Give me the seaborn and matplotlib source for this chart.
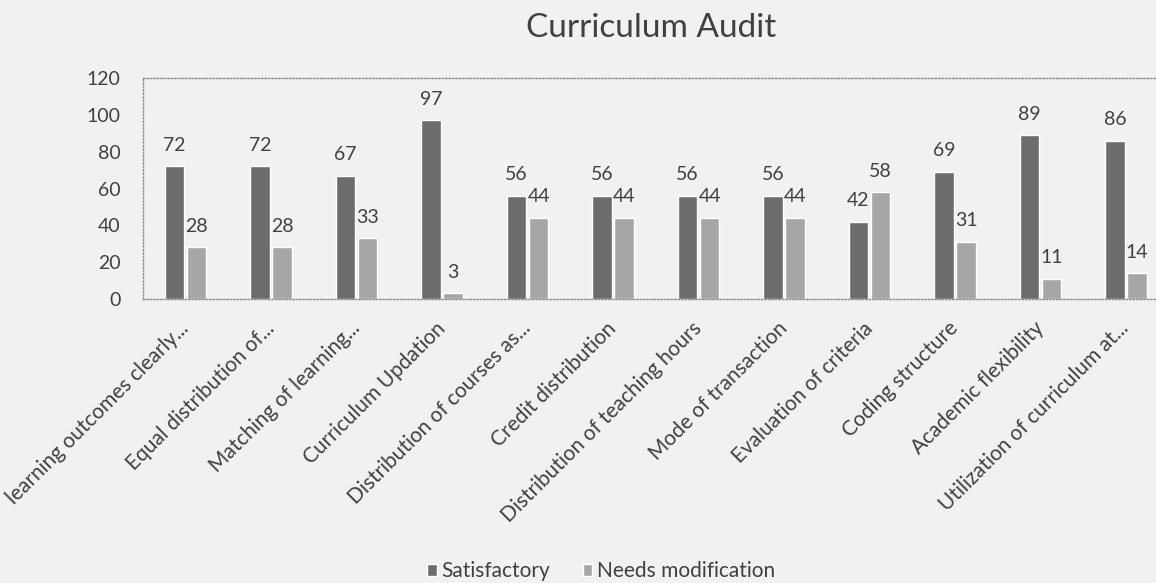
import numpy as np
import pandas as pd
import seaborn as sns
import matplotlib.pyplot as plt

# -----------------------------------------------
# Data
# -----------------------------------------------
categories = [
    'learning outcomes clearly...', 'Equal distribution of...', 'Matching of learning...',
    'Curriculum Updation', 'Distribution of courses as...', 'Credit distribution',
    'Distribution of teaching hours', 'Mode of transaction', 'Evaluation of criteria',
    'Coding structure', 'Academic flexibility', 'Utilization of curriculum at...'
]
satisfactory = [72, 72, 67, 97, 56, 56, 56, 56, 42, 69, 89, 86]
needs_modification = [28, 28, 33, 3, 44, 44, 44, 44, 58, 31, 11, 14]
series_names = ['Satisfactory', 'Needs modification']
y_ticks = [0, 20, 40, 60, 80, 100, 120]

df = pd.DataFrame({
    'category': categories * 2,
    'value': satisfactory + needs_modification,
    'series': [series_names[0]] * len(categories) + [series_names[1]] * len(categories),
})

# -----------------------------------------------
# Style
# -----------------------------------------------
sns.set_theme(style='white')
plt.rcParams['font.family'] = ['Lato', 'DejaVu Sans']
text_col = '#404040'
bg = '#f1f1f1'

fig = plt.figure(figsize=(11.56, 5.83), dpi=100, facecolor=bg)
ax = fig.add_axes([142.7 / 1156, 284 / 583, 1026 / 1156, 221 / 583])
ax.set_facecolor(bg)

sns.barplot(data=df, x='category', y='value', hue='series', order=categories,
            hue_order=series_names, palette=['#6c6c6c', '#a6a6a6'],
            width=0.52, gap=0.12, saturation=1, ax=ax, legend=True)

for cont in ax.containers:
    ax.bar_label(cont, padding=9, fontsize=14, color=text_col)

ax.set_xlim(-0.5, len(categories) - 0.5)
ax.set_ylim(0, 120)
ax.set_yticks(y_ticks)
ax.set_xlabel('')
ax.set_ylabel('')
ax.tick_params(axis='y', length=0, pad=16, labelsize=14, labelcolor=text_col)
ax.tick_params(axis='x', length=0, pad=19, labelsize=15, labelcolor=text_col)
plt.setp(ax.get_xticklabels(), rotation=45, ha='right', va='center', rotation_mode='anchor')

# dotted plot-area border
for side in ['top', 'left', 'bottom']:
    ax.spines[side].set_visible(True)
    ax.spines[side].set_linestyle((0, (1, 1.5)))
    ax.spines[side].set_color('#8c8c8c')
    ax.spines[side].set_linewidth(1)
ax.spines['right'].set_visible(False)

# legend at the bottom
handles, labels = ax.get_legend_handles_labels()
ax.get_legend().remove()
fig.legend(handles, labels, loc='center', bbox_to_anchor=(0.52, 0.02), ncol=2,
           frameon=False, fontsize=15, handlelength=0.45, handleheight=0.45,
           handletextpad=0.2, columnspacing=1.6, labelcolor=text_col,
           borderpad=0, borderaxespad=0)

fig.text(0.5636, 1 - 37 / 583, 'Curriculum Audit', ha='center', va='baseline',
         fontsize=24, color=text_col)

fig.savefig('out.png', dpi=100, facecolor=bg)
